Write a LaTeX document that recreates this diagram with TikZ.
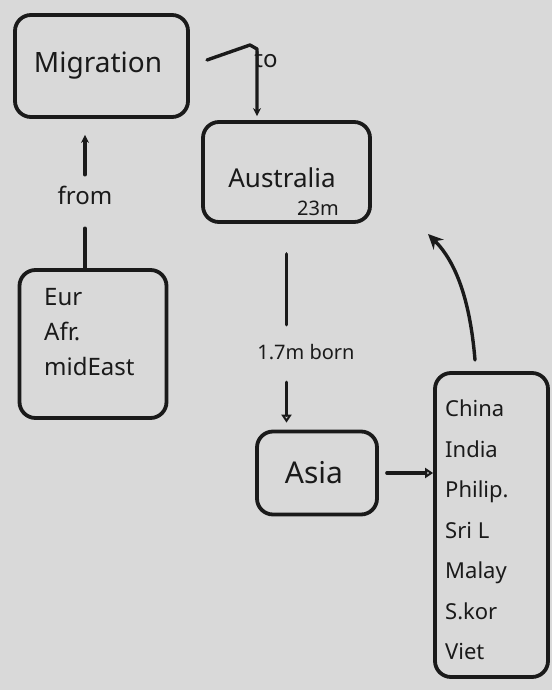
\documentclass[tikz,border=0pt]{standalone}
\usepackage{fontspec}
\setmainfont{Noto Sans}
\usetikzlibrary{arrows.meta,calc}
\definecolor{ink}{HTML}{1A1A1A}
\definecolor{paper}{HTML}{D9D9D9}
\tikzset{
  box/.style={draw=ink, line width=3.8pt, rounded corners=16pt, inner sep=0pt},
  conn/.style={draw=ink, line width=3.4pt, line cap=round, line join=round},
  txt/.style={text=ink, inner sep=0pt},
  lbl/.style={text=ink, inner sep=0pt, minimum height=30pt},
  opentip/.style={-{Triangle[open, length=8pt, width=10pt, line width=2.6pt]}},
  smalltip/.style={-{Stealth[length=8pt, width=8pt]}},
  bigtip/.style={-{Stealth[length=15pt, width=14pt]}}
}
\begin{document}
\begin{tikzpicture}[x=1pt,y=-1pt]
\useasboundingbox (0,0) rectangle (552,690);
\fill[paper] (0,0) rectangle (552,690);

% boxes
\node[box, minimum width=173pt, minimum height=102pt] (mig) at (101.5,66) {};
\node[box, minimum width=167pt, minimum height=100pt] (aus) at (286.5,172) {};
\node[box, minimum width=147pt, minimum height=148pt] (eur) at (93,344) {};
\node[box, minimum width=120pt, minimum height=83pt] (asia) at (317,473) {};
\node[box, minimum width=113pt, minimum height=304pt] (cty) at (491.5,525) {};

% texts
\node[txt, font=\fontsize{28}{32}\selectfont] (migt) at (98,66) {Migration};
\node[txt, font=\fontsize{26}{30}\selectfont] (aust) at (282,178) {Australia};
\node[txt, font=\fontsize{20}{24}\selectfont] (ausn) at (318,208) {23m};
\node[txt, anchor=north west, align=left, font=\fontsize{24}{35}\selectfont] (eurt) at (44,288) {Eur\\Afr.\\midEast};
\node[txt, font=\fontsize{30}{34}\selectfont] (asiat) at (314,473) {Asia};
\node[txt, anchor=west, align=left, font=\fontsize{22}{40.5}\selectfont] (ctyt) at (445,530) {China\\India\\Philip.\\Sri L\\Malay\\S.kor\\Viet};

% labels
\node[lbl, font=\fontsize{24}{28}\selectfont] (fromlbl) at (85,195) {from};
\node[lbl, font=\fontsize{24}{28}\selectfont] (tolbl) at (266,60) {to};
\node[lbl, font=\fontsize{20}{24}\selectfont] (bornlbl) at (306,352) {1.7m born};

% connectors
\draw[conn, shorten >=18pt] (fromlbl.south |- eur.north) -- (fromlbl.south);
\draw[conn, smalltip, shorten <=5pt, shorten >=16pt] (fromlbl.north) -- (fromlbl.north |- mig.south);

\coordinate (toStart) at (207,60);
\coordinate (toTop) at (250,45);
\coordinate (toBend) at (257,49);
\draw[conn, smalltip, shorten >=4pt] (toStart) -- (toTop) -- (toBend) -- (toBend |- aus.north);

\draw[conn, shorten <=30pt, shorten >=12pt] (aus.south) -- (aus.south |- bornlbl.north);
\draw[conn, opentip, shorten <=15pt, shorten >=7pt] (aus.south |- bornlbl.south) -- (aus.south |- asia.north);

\draw[conn, opentip, shorten <=8pt] (asia.east) -- (asia.east -| cty.west);

\coordinate (cStart) at (475,360);
\coordinate (cEnd) at (428,234);
\draw[conn, bigtip] (cStart) .. controls (470,300) and (456,262) .. (cEnd);
\end{tikzpicture}
\end{document}
